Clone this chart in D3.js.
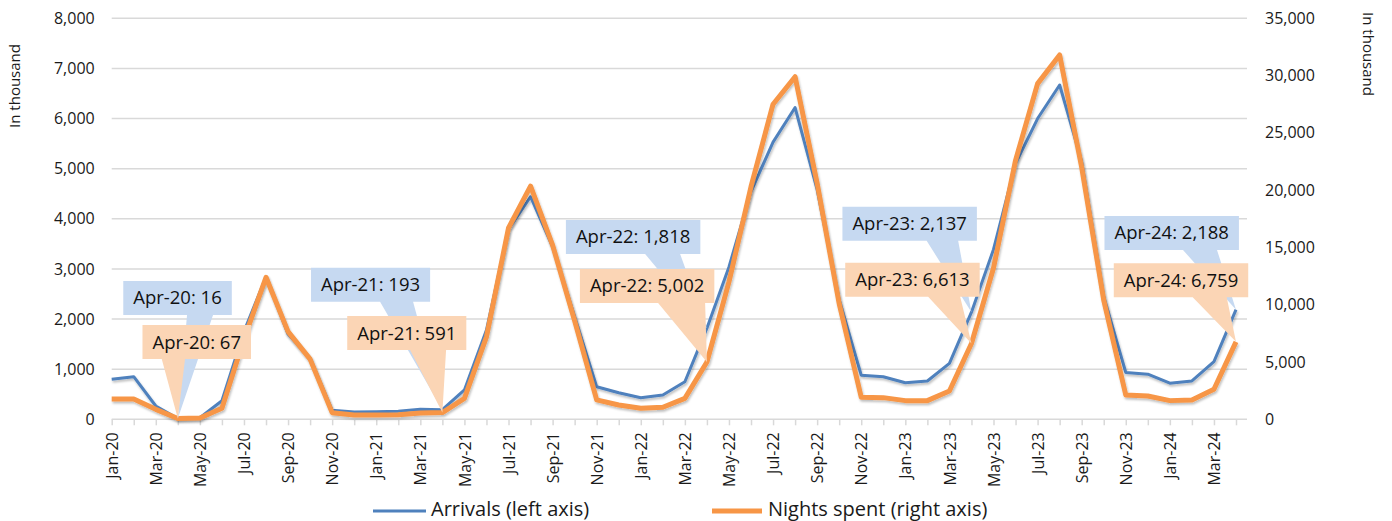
<!DOCTYPE html>
<html>
<head>
<meta charset="utf-8">
<script src="https://cdn.jsdelivr.net/npm/d3@7"></script>
<style>
  html, body { margin: 0; padding: 0; background: #fff; }
  svg { display: block; font-family: "Open Sans", "Noto Sans", sans-serif; }
</style>
</head>
<body>
<svg id="chart" width="1392" height="521"></svg>
<script>
// months Jan-20 .. Apr-24
const months = [
  "Jan-20","Feb-20","Mar-20","Apr-20","May-20","Jun-20","Jul-20","Aug-20","Sep-20","Oct-20","Nov-20","Dec-20",
  "Jan-21","Feb-21","Mar-21","Apr-21","May-21","Jun-21","Jul-21","Aug-21","Sep-21","Oct-21","Nov-21","Dec-21",
  "Jan-22","Feb-22","Mar-22","Apr-22","May-22","Jun-22","Jul-22","Aug-22","Sep-22","Oct-22","Nov-22","Dec-22",
  "Jan-23","Feb-23","Mar-23","Apr-23","May-23","Jun-23","Jul-23","Aug-23","Sep-23","Oct-23","Nov-23","Dec-23",
  "Jan-24","Feb-24","Mar-24","Apr-24"
];

// arrivals, in thousand (left axis)
const arrivals = [
  800, 850, 265, 16, 30, 370, 1750, 2840, 1700, 1220, 180, 145,
  150, 160, 200, 193, 585, 1780, 3790, 4440, 3440, 2050, 650, 530,
  430, 485, 750, 1818, 3040, 4540, 5530, 6220, 4580, 2390, 880, 850,
  730, 765, 1115, 2137, 3390, 5100, 6000, 6670, 5140, 2450, 935, 900,
  720, 765, 1150, 2188
];

// nights spent, in thousand (right axis)
const nights = [
  1770, 1780, 870, 67, 110, 960, 7000, 12400, 7650, 5250, 580, 380,
  370, 400, 560, 591, 1830, 7200, 16700, 20350, 15200, 8600, 1690, 1250,
  960, 1050, 1830, 5002, 12000, 20300, 27500, 29900, 20600, 10100, 1920, 1890,
  1630, 1630, 2470, 6613, 13200, 22600, 29300, 31800, 22000, 10400, 2120, 2030,
  1630, 1680, 2620, 6759
];

const leftTicks = [0, 1000, 2000, 3000, 4000, 5000, 6000, 7000, 8000];
const rightTicks = [0, 5000, 10000, 15000, 20000, 25000, 30000, 35000];

// callouts: which month gets a label
const calloutMonths = ["Apr-20", "Apr-21", "Apr-22", "Apr-23", "Apr-24"];

// layout of callout boxes (offset of box centre from the data point, pointer base rel. to box centre)
const blueLayout = [
  {dx: -0.3, dy: -137.5, b: [9.5, 35.5]},
  {dx: -71.8, dy: -141.9, b: [9.5, 42.5]},
  {dx: -73.8, dy: -108.2, b: [12, 47]},
  {dx: -61.8, dy: -105.5, b: [17, 48.5]},
  {dx: -64.3, dy: -93.7, b: [11.3, 45.3]}
];
const orangeLayout = [
  {dx: 18.9, dy: -93.5, b: [-35, -11.7]},
  {dx: -35.6, dy: -96.5, b: [3.3, 39.3]},
  {dx: -59.8, dy: -93, b: [11, 58]},
  {dx: -59, dy: -80.8, b: [15.7, 47.7]},
  {dx: -55, dy: -78.6, b: [11.7, 45.7]}
];

const BLUE = "#4f81bd", ORANGE = "#f79646";
const BLUE_LIGHT = "#c6d9f1", ORANGE_LIGHT = "#fbd5b5";
const GRID = "#d9d9d9";

const svg = d3.select("#chart");

let plot_left = 111.7, plot_right = 1247, last_x = 1236;
let plot_top = 18.3, plot_bottom = 419.3;

const x = d3.scalePoint().domain(months).range([plot_left, last_x]);
const yL = d3.scaleLinear().domain([0, 8000]).range([plot_bottom, plot_top]);
const yR = d3.scaleLinear().domain([0, 35000]).range([plot_bottom, plot_top]);
const fmt = d3.format(",");

// shadow for lines
const defs = svg.append("defs");
const f = defs.append("filter").attr("id", "shadow")
  .attr("x", "-5%").attr("y", "-5%").attr("width", "110%").attr("height", "120%");
f.append("feDropShadow").attr("dx", 1).attr("dy", 2).attr("stdDeviation", 1.2)
  .attr("flood-color", "#000").attr("flood-opacity", 0.25);

// gridlines
svg.append("g").selectAll("line")
  .data(leftTicks.slice(1))
  .enter().append("line")
  .attr("x1", plot_left).attr("x2", plot_right)
  .attr("y1", d => yL(d)).attr("y2", d => yL(d))
  .attr("stroke", GRID).attr("stroke-width", 1.5);

// left axis labels
const leftAxis = svg.append("g")
  .attr("transform", `translate(${plot_left - 17},0)`)
  .call(d3.axisLeft(yL).tickValues(leftTicks).tickSize(0).tickPadding(0).tickFormat(fmt));
leftAxis.select(".domain").remove();
leftAxis.selectAll("text")
  .attr("font-family", "Open Sans").attr("font-size", 16).attr("fill", "#1a1a1a");

// right axis labels
const rightAxis = svg.append("g")
  .attr("transform", `translate(1265,0)`)
  .call(d3.axisRight(yR).tickValues(rightTicks).tickSize(0).tickPadding(0).tickFormat(fmt));
rightAxis.select(".domain").remove();
rightAxis.selectAll("text")
  .attr("font-family", "Open Sans").attr("font-size", 16).attr("fill", "#1a1a1a");

// x axis
const xAxis = svg.append("g")
  .attr("transform", `translate(0,${plot_bottom})`)
  .call(d3.axisBottom(x).tickSize(6).tickPadding(0)
    .tickFormat((d, i) => i % 2 === 0 ? d : ""));
xAxis.select(".domain")
  .attr("d", `M${plot_left},0H${plot_right}`)
  .attr("stroke", GRID).attr("stroke-width", 1.5);
xAxis.selectAll(".tick line").attr("stroke", GRID).attr("stroke-width", 1.5);
xAxis.selectAll(".tick text")
  .attr("font-family", "Open Sans").attr("font-size", 16).attr("fill", "#1a1a1a")
  .attr("text-anchor", "end")
  .attr("transform", "translate(0,13) rotate(-90)")
  .attr("x", 0).attr("y", 0).attr("dy", "0.35em");

// axis titles
svg.append("text")
  .attr("transform", "translate(15,86) rotate(-90)")
  .attr("text-anchor", "middle").attr("dy", "0.35em")
  .attr("font-size", 15).attr("fill", "#1a1a1a")
  .text("In thousand");
svg.append("text")
  .attr("transform", "translate(1368,54) rotate(90)")
  .attr("text-anchor", "middle").attr("dy", "0.35em")
  .attr("font-size", 15).attr("fill", "#1a1a1a")
  .text("In thousand");

// lines
const lineL = d3.line().x((d, i) => x(months[i])).y(d => yL(d));
const lineR = d3.line().x((d, i) => x(months[i])).y(d => yR(d));

svg.append("path").datum(arrivals)
  .attr("d", lineL).attr("fill", "none")
  .attr("stroke", BLUE).attr("stroke-width", 3)
  .attr("stroke-linejoin", "round").attr("filter", "url(#shadow)");
svg.append("path").datum(nights)
  .attr("d", lineR).attr("fill", "none")
  .attr("stroke", ORANGE).attr("stroke-width", 5)
  .attr("stroke-linejoin", "round").attr("filter", "url(#shadow)");

// callouts
function make_callouts(values, scale, layout, fill) {
  const g = svg.append("g");
  calloutMonths.forEach((m, k) => {
    const i = months.indexOf(m);
    const tx = x(m), ty = scale(values[i]);
    const lay = layout[k];
    const cx = tx + lay.dx, top = ty + lay.dy, h = 34;
    const grp = g.append("g");
    const label = grp.append("text")
      .attr("x", cx).attr("y", top + h / 2).attr("dy", "0.35em")
      .attr("text-anchor", "middle")
      .attr("font-size", 18.5).attr("fill", "#111")
      .text(m + ": " + fmt(values[i]));
    const w = label.node().getComputedTextLength() + 20;
    grp.insert("path", "text")
      .attr("d", `M${cx - w / 2},${top}H${cx + w / 2}V${top + h}` +
        `H${cx + lay.b[1]}L${tx},${ty}L${cx + lay.b[0]},${top + h}H${cx - w / 2}Z`)
      .attr("fill", fill);
  });
}
make_callouts(arrivals, yL, blueLayout, BLUE_LIGHT);
make_callouts(nights, yR, orangeLayout, ORANGE_LIGHT);

// legend
const legend = svg.append("g");
legend.append("line").attr("x1", 373).attr("x2", 426).attr("y1", 511).attr("y2", 511)
  .attr("stroke", BLUE).attr("stroke-width", 3);
legend.append("text").attr("x", 431).attr("y", 516)
  .attr("font-size", 20).attr("fill", "#1a1a1a").text("Arrivals (left axis)");
legend.append("line").attr("x1", 712).attr("x2", 762).attr("y1", 511).attr("y2", 511)
  .attr("stroke", ORANGE).attr("stroke-width", 5);
legend.append("text").attr("x", 768).attr("y", 516)
  .attr("font-size", 20).attr("fill", "#1a1a1a").text("Nights spent (right axis)");
</script>
</body>
</html>
